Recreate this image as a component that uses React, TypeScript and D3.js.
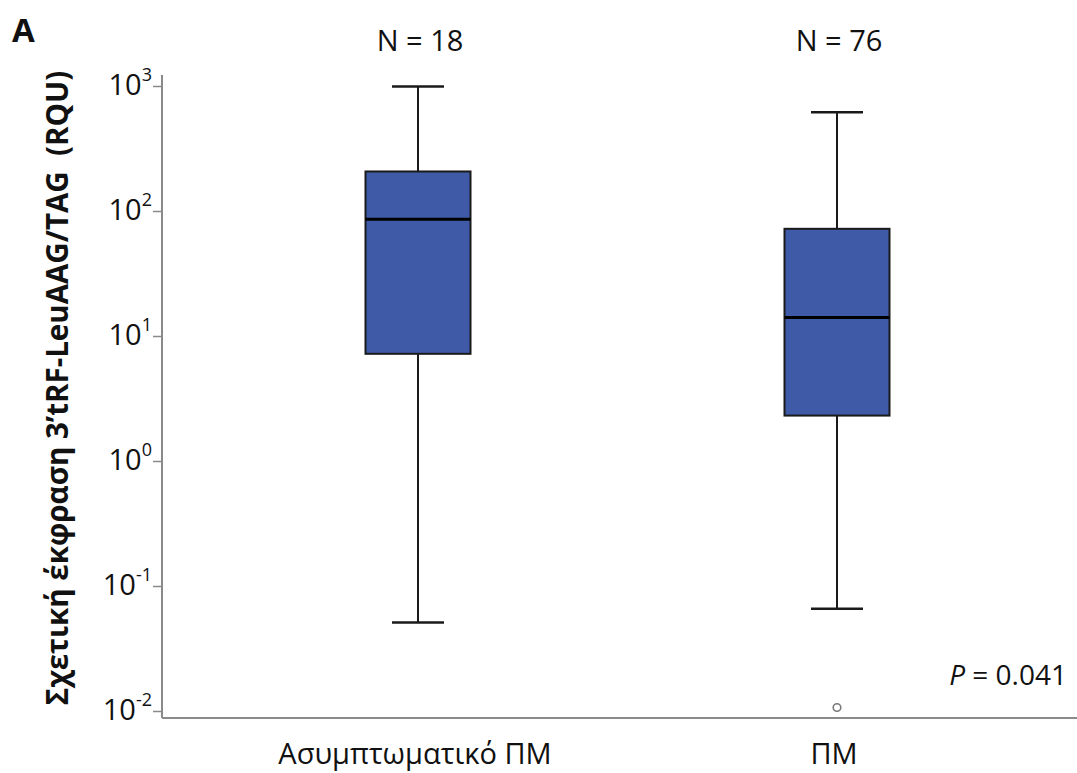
import React from "react";
import * as d3 from "d3";

// Groups and their five-number summaries (relative expression, RQU)
const categories = ["Ασυμπτωματικό ΠΜ", "ΠΜ"];
const sampleSizes = [18, 76];
const whiskerLow = [0.0515, 0.0663];
const quartile1 = [7.27, 2.33];
const medians = [86.8, 14.2];
const quartile3 = [209, 72.7];
const whiskerHigh = [1000, 623];
// Outliers as [group index, value]
const outliers: [number, number][] = [[1, 0.01076]];
const yTickExponents = [3, 2, 1, 0, -1, -2];
const pValueText = "0.041";
const yTitle = "Σχετική έκφραση 3’tRF-LeuAAG/TAG\u00A0\u00A0(RQU)";

const W = 1077;
const H = 773;
const FONT = "'Open Sans', 'Noto Sans', sans-serif";

export default function App() {
  const axisX = 162;
  const axisY = 718;
  const y = d3.scaleLog().domain([0.01, 1000]).range([711.5, 86.5]);
  const x = d3.scalePoint<string>().domain(categories).range([418, 837]);
  const boxW = 105;
  const capW = 52;
  const blue = "#3F5BA8";
  const ink = "#1a1a1a";
  const axisColor = "#8a8a8a";

  return (
    <svg
      width={W}
      height={H}
      style={{ position: "absolute", left: 0, top: 0, background: "#fff" }}
      fontFamily={FONT}
    >
      {/* panel letter */}
      <text x={12} y={42} fontSize={33} fontWeight="bold" fill="#111">
        A
      </text>

      {/* y axis */}
      <line x1={axisX} x2={axisX} y1={75} y2={axisY} stroke={axisColor} strokeWidth={2} />
      {yTickExponents.map((e) => {
        const ty = y(Math.pow(10, e));
        return (
          <g key={e}>
            <line x1={axisX - 9} x2={axisX} y1={ty} y2={ty} stroke={axisColor} strokeWidth={1.5} />
            <text x={152} y={ty + 8} textAnchor="end" fontSize={29} fill="#111">
              10
              <tspan fontSize={18} dy={-14}>
                {e}
              </tspan>
            </text>
          </g>
        );
      })}

      {/* x axis */}
      <line x1={axisX} x2={W} y1={axisY} y2={axisY} stroke={axisColor} strokeWidth={2} />

      {/* y title */}
      <text
        transform={`translate(68, 388) rotate(-90)`}
        textAnchor="middle"
        fontSize={29.5}
        fontWeight="bold"
        fill="#111"
      >
        {yTitle}
      </text>

      {/* boxes */}
      {categories.map((c, i) => {
        const cx = x(c) as number;
        return (
          <g key={c}>
            <text x={cx + 2} y={51} textAnchor="middle" fontSize={29} fill="#111">
              {`N = ${sampleSizes[i]}`}
            </text>
            <line x1={cx} x2={cx} y1={y(whiskerHigh[i])} y2={y(quartile3[i])} stroke={ink} strokeWidth={2} />
            <line x1={cx} x2={cx} y1={y(quartile1[i])} y2={y(whiskerLow[i])} stroke={ink} strokeWidth={2} />
            <line
              x1={cx - capW / 2}
              x2={cx + capW / 2}
              y1={y(whiskerHigh[i])}
              y2={y(whiskerHigh[i])}
              stroke={ink}
              strokeWidth={2.5}
            />
            <line
              x1={cx - capW / 2}
              x2={cx + capW / 2}
              y1={y(whiskerLow[i])}
              y2={y(whiskerLow[i])}
              stroke={ink}
              strokeWidth={2.5}
            />
            <rect
              x={cx - boxW / 2}
              y={y(quartile3[i])}
              width={boxW}
              height={y(quartile1[i]) - y(quartile3[i])}
              fill={blue}
              stroke={ink}
              strokeWidth={2}
            />
            <line
              x1={cx - boxW / 2}
              x2={cx + boxW / 2}
              y1={y(medians[i])}
              y2={y(medians[i])}
              stroke="#000"
              strokeWidth={3}
            />
            <text x={cx - 3} y={764} textAnchor="middle" fontSize={29} fill="#111">
              {c}
            </text>
          </g>
        );
      })}

      {/* outliers */}
      {outliers.map(([gi, v], k) => (
        <circle
          key={k}
          cx={x(categories[gi]) as number}
          cy={y(v)}
          r={3.8}
          fill="#fff"
          stroke="#7a7a7a"
          strokeWidth={1.6}
        />
      ))}

      {/* significance */}
      <text x={1067} y={685} textAnchor="end" fontSize={28} fill="#111">
        <tspan fontStyle="italic">P</tspan>
        {` = ${pValueText}`}
      </text>
    </svg>
  );
}
